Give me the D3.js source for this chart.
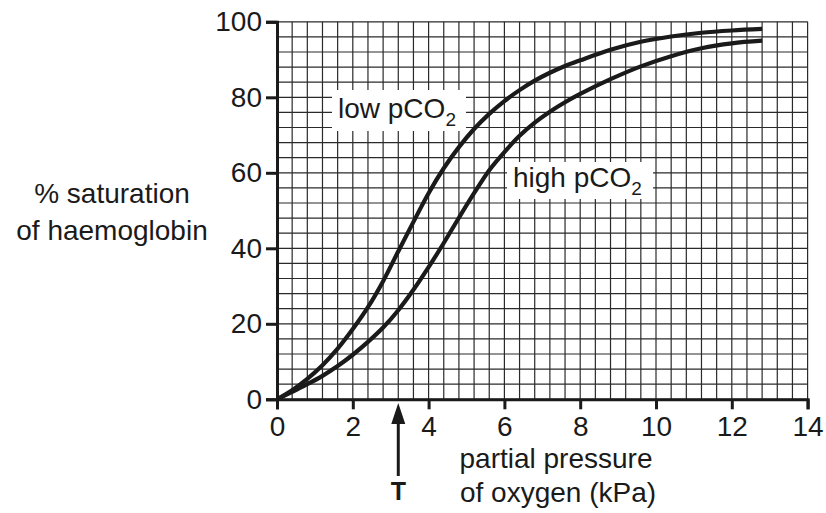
<!DOCTYPE html>
<html>
<head>
<meta charset="utf-8">
<script src="https://cdn.jsdelivr.net/npm/d3@7.9.0/dist/d3.min.js"></script>
<style>
    body { margin: 0; background: #fff; }
    svg text { font-family: "Liberation Sans", Arial, sans-serif; fill: #1a1a1a; }
</style>
</head>
<body>
<svg id="chart" width="826" height="513"></svg>
<script>
// partial pressure of oxygen (kPa)
const pO2 = [0, 0.4, 0.8, 1.2, 1.6, 2, 2.4, 2.8, 3.2, 3.6, 4, 4.4, 4.8, 5.2, 5.6, 6,
             6.4, 6.8, 7.2, 7.6, 8, 8.8, 9.6, 10.4, 11.2, 12, 12.8];
// % saturation
const lowPCO2 = [0, 2.4, 5.4, 9, 13.4, 18.6, 24.4, 31.3, 39.2, 47, 54.6, 61.2, 66.8, 71.6, 75.6, 79,
                 81.9, 84.4, 86.5, 88.3, 89.8, 92.6, 94.7, 96.1, 97.1, 97.7, 98.1];
const highPCO2 = [0, 2, 4, 6.2, 8.8, 11.8, 15.2, 19, 23.6, 29, 35, 41.4, 48.1, 54.6, 60.7, 65.5,
                  69.8, 73.3, 76.2, 78.7, 80.9, 84.8, 88.2, 90.9, 93, 94.3, 95];

const xTicks = [0, 2, 4, 6, 8, 10, 12, 14];
const yTicks = [0, 20, 40, 60, 80, 100];
const markerT = 3.2;

let svg = d3.select('#chart');

let x = d3.scaleLinear().domain([0, 14]).range([277, 807.6]);
let y = d3.scaleLinear().domain([0, 100]).range([399.3, 21.8]);

// graph paper: small squares of 0.4 kPa by 4 %
let grid = svg.append('g').attr('stroke', '#2a2a2a').attr('stroke-width', 1.2);
d3.range(0, 14.001, 0.4).forEach(v => {
    grid.append('line')
        .attr('x1', x(v)).attr('x2', x(v))
        .attr('y1', y(0)).attr('y2', y(100));
});
d3.range(0, 100.001, 4).forEach(v => {
    grid.append('line')
        .attr('x1', x(0)).attr('x2', x(14))
        .attr('y1', y(v)).attr('y2', y(v));
});

// axes
let xAxis = d3.axisBottom(x).tickValues(xTicks).tickSize(10).tickPadding(7);
let yAxis = d3.axisLeft(y).tickValues(yTicks).tickSize(11).tickPadding(4);

svg.append('g').attr('transform', `translate(0,${y(0)})`).call(xAxis);
svg.append('g').attr('transform', `translate(${x(0)},0)`).call(yAxis);

svg.selectAll('.domain').attr('stroke', '#1a1a1a').attr('stroke-width', 3);
svg.selectAll('.tick line').attr('stroke', '#1a1a1a').attr('stroke-width', 3);
svg.selectAll('.tick text')
    .attr('fill', '#1a1a1a')
    .attr('font-size', 28)
    .attr('font-family', '"Liberation Sans", Arial, sans-serif');

// white label boxes sit on top of the grid
function curveLabel(name, left, top, w, h, baseX, baseY) {
    svg.append('rect')
        .attr('x', left).attr('y', top)
        .attr('width', w).attr('height', h)
        .attr('fill', '#fff');
    let t = svg.append('text').attr('x', baseX).attr('y', baseY).attr('font-size', 28);
    t.append('tspan').text(name + ' pCO');
    t.append('tspan').attr('font-size', 19).attr('dy', 8).text('2');
}
curveLabel('low', 332, 90, 134, 41, 338, 118);
curveLabel('high', 507, 162, 146, 37, 513, 187);

// the two dissociation curves
let line = d3.line()
    .x((d, i) => x(pO2[i]))
    .y(d => y(d))
    .curve(d3.curveCatmullRom.alpha(0.5));

[lowPCO2, highPCO2].forEach(series => {
    svg.append('path')
        .attr('d', line(series))
        .attr('fill', 'none')
        .attr('stroke', '#1a1a1a')
        .attr('stroke-width', 4.2);
});

// axis titles
let yTitle = svg.append('text').attr('text-anchor', 'middle').attr('font-size', 28);
yTitle.append('tspan').attr('x', 112).attr('y', 203).text('% saturation');
yTitle.append('tspan').attr('x', 112).attr('y', 240).text('of haemoglobin');

let xTitle = svg.append('text').attr('text-anchor', 'middle').attr('font-size', 28);
xTitle.append('tspan').attr('x', 556).attr('y', 468).text('partial pressure');
xTitle.append('tspan').attr('x', 558).attr('y', 502).text('of oxygen (kPa)');

// arrow marking point T
let tx = x(markerT);
svg.append('line')
    .attr('x1', tx).attr('x2', tx)
    .attr('y1', 420).attr('y2', 476)
    .attr('stroke', '#1a1a1a').attr('stroke-width', 3);
svg.append('path')
    .attr('d', `M${tx},403 L${tx - 7},424 L${tx + 7},424 Z`)
    .attr('fill', '#1a1a1a');
svg.append('text')
    .attr('x', tx).attr('y', 500)
    .attr('text-anchor', 'middle')
    .attr('font-size', 25).attr('font-weight', 'bold')
    .text('T');
</script>
</body>
</html>
